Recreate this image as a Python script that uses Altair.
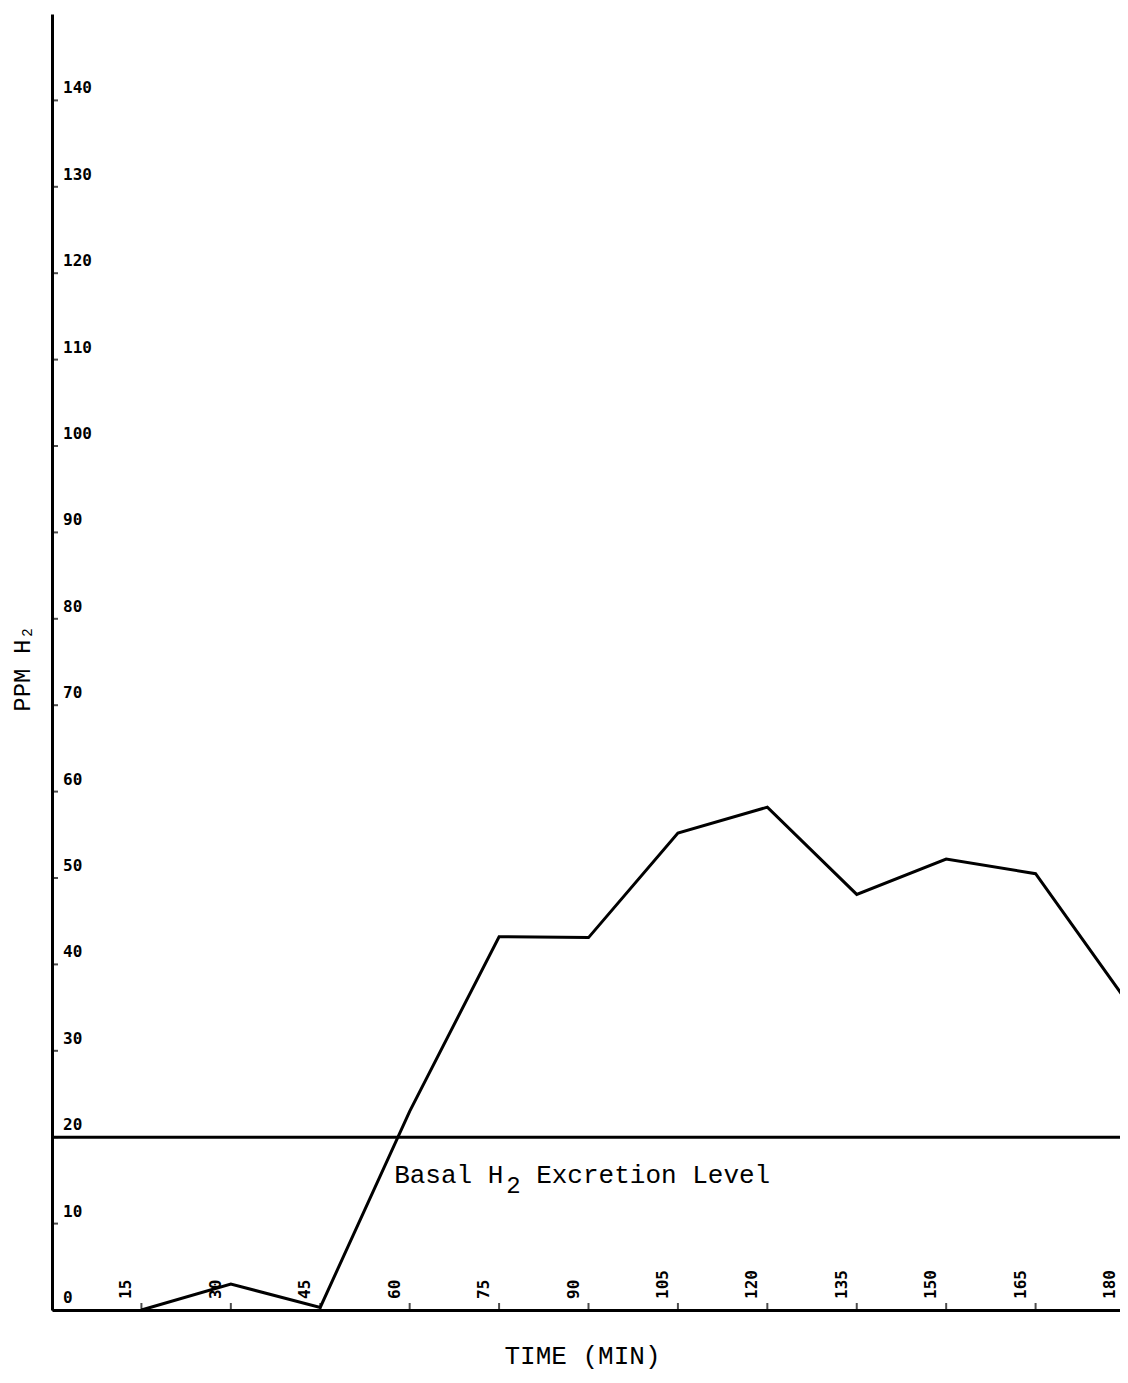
import altair as alt
import pandas as pd

# ---- data ----
time_min = [15, 30, 45, 60, 75, 90, 105, 120, 135, 150, 165, 180]
ppm_h2 = [0, 3, 0.3, 23, 43.2, 43.1, 55.2, 58.2, 48.1, 52.2, 50.5, 36]

x_tick_values = [15, 30, 45, 60, 75, 90, 105, 120, 135, 150, 165, 180]
x_tick_labels = ["15", "30", "45", "60", "75", "90", "105", "120", "135", "150", "165", "180"]
y_tick_values = [0, 10, 20, 30, 40, 50, 60, 70, 80, 90, 100, 110, 120, 130, 140]
y_tick_labels = ["0", "10", "20", "30", "40", "50", "60", "70", "80", "90", "100", "110", "120", "130", "140"]

basal_level = [20]
basal_text_main = "Basal H"
basal_text_sub = "2"
basal_text_rest = "Excretion Level"
basal_text_pos = [57.4, 14.7]  # (time, ppm) of text start / baseline

W, H = 1073, 1296
TYPE_FONT = "Liberation Mono"
PLOT_FONT = "DejaVu Sans Mono"

xs = alt.Scale(domain=[0, 180], nice=False, zero=True)
ys = alt.Scale(domain=[0, 150], nice=False, zero=True)

line_df = pd.DataFrame({"t": time_min, "ppm": ppm_h2})
xt_df = pd.DataFrame({"t": x_tick_values, "lab": x_tick_labels, "zero": [0] * len(x_tick_values)})
yt_df = pd.DataFrame({"ppm": y_tick_values, "lab": y_tick_labels, "zero": [0] * len(y_tick_values)})
basal_df = pd.DataFrame({"ppm": basal_level})
btxt_df = pd.DataFrame({"t": [basal_text_pos[0]], "ppm": [basal_text_pos[1]]})

X = lambda f: alt.X(f, scale=xs)
Y = lambda f: alt.Y(f, scale=ys)

line = alt.Chart(line_df).mark_line(color="black", strokeWidth=3).encode(
    x=alt.X("t:Q", scale=xs, axis=alt.Axis(
        title="TIME (MIN)", labels=False, ticks=False, grid=False,
        domainColor="black", domainWidth=3,
        titleFont=TYPE_FONT, titleFontSize=26, titleFontWeight="normal", titleColor="black",
        titleX=530, titleY=53, titleAlign="center", titleBaseline="alphabetic")),
    y=alt.Y("ppm:Q", scale=ys, axis=alt.Axis(
        title="PPM H₂", labels=False, ticks=False, grid=False,
        domainColor="black", domainWidth=3,
        titleFont=TYPE_FONT, titleFontSize=24, titleFontWeight="normal", titleColor="black",
        titleX=-30, titleY=654, titleAngle=270, titleAlign="center", titleBaseline="middle")),
)

basal = alt.Chart(basal_df).mark_rule(color="black", strokeWidth=3).encode(y=Y("ppm:Q"))

xticks = alt.Chart(xt_df).mark_tick(color="black", orient="vertical", size=7, thickness=2, yOffset=-3.5).encode(
    x=X("t:Q"), y=Y("zero:Q")
)
xlabels = alt.Chart(xt_df).mark_text(
    font=PLOT_FONT, fontWeight="bold", fontSize=16, color="black",
    angle=270, align="left", baseline="bottom", dx=11, dy=-7
).encode(x=X("t:Q"), y=Y("zero:Q"), text="lab:N")

yticks = alt.Chart(yt_df).mark_tick(color="black", orient="horizontal", size=6, thickness=2, xOffset=3).encode(
    y=Y("ppm:Q"), x=X("zero:Q")
)
ylabels = alt.Chart(yt_df).mark_text(
    font=PLOT_FONT, fontWeight="bold", fontSize=16, color="black",
    align="left", baseline="bottom", dx=11, dy=-4
).encode(y=Y("ppm:Q"), x=X("zero:Q"), text="lab:N")

bt_main = alt.Chart(btxt_df).mark_text(
    font=TYPE_FONT, fontSize=26, color="black", align="left", baseline="alphabetic", text=basal_text_main
).encode(x=X("t:Q"), y=Y("ppm:Q"))
bt_sub = alt.Chart(btxt_df).mark_text(
    font=TYPE_FONT, fontSize=24, color="black", align="left", baseline="alphabetic",
    text=basal_text_sub, dx=112, dy=10
).encode(x=X("t:Q"), y=Y("ppm:Q"))
bt_rest = alt.Chart(btxt_df).mark_text(
    font=TYPE_FONT, fontSize=26, color="black", align="left", baseline="alphabetic",
    text=basal_text_rest, dx=142
).encode(x=X("t:Q"), y=Y("ppm:Q"))

chart = alt.layer(line, basal, xticks, xlabels, yticks, ylabels, bt_main, bt_sub, bt_rest).properties(
    width=W, height=H,
    padding={"left": 44, "top": 6, "right": -5, "bottom": 63},
    autosize=alt.AutoSizeParams(type="none"),
    background="white",
).configure_view(stroke=None)

chart.save("out.html", embed_options={"renderer": "svg", "actions": False})
